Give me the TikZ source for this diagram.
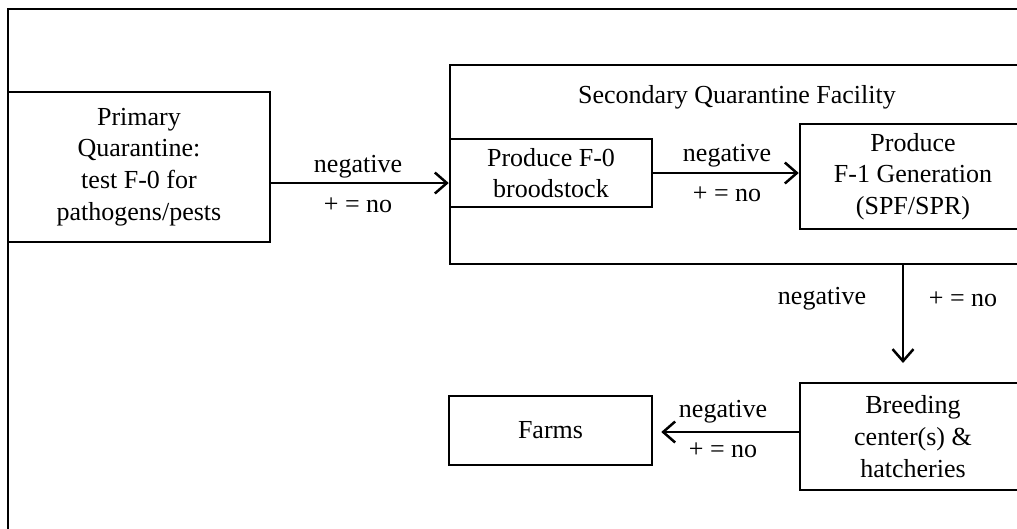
\documentclass[tikz,border=0pt]{standalone}
\usepackage{fontspec}
\setmainfont{Liberation Serif}
\usetikzlibrary{arrows.meta}
\begin{document}
\begin{tikzpicture}[x=1pt,y=-1pt,
  every node/.style={font=\fontsize{26}{31.7}\selectfont, inner sep=0pt},
  box/.style={draw, line width=2.5pt, align=center},
  lab/.style={anchor=center},
  arr/.style={line width=2.5pt, -{Straight Barb[length=12pt,width=21pt,line width=2.5pt]}}]
\useasboundingbox (0,0) rectangle (1017,528);
\clip (0,0) rectangle (1017,528);
\draw[line width=2.5pt] (8,9) rectangle (1045,545);
\node[box, minimum width=262pt, minimum height=150pt] (prim) at (139,167)
  {Primary\\Quarantine:\\test F-0 for\\pathogens/pests};
\node[box, minimum width=600pt, minimum height=199pt] (sec) at (750,164.5) {};
\node (sectitle) at (737,97) {Secondary Quarantine Facility};
\node[box, minimum width=202pt, minimum height=68pt] (f0) at (551,173)
  {Produce F-0\\broodstock};
\node[box, minimum width=226pt, minimum height=105pt] (f1) at (913,176.5)
  {Produce\\F-1 Generation\\(SPF/SPR)};
\node[box, minimum width=226pt, minimum height=107pt] (breed) at (913,436.5)
  {Breeding\\center(s) \&\\hatcheries};
\node[box, minimum width=203pt, minimum height=69pt] (farms) at (550.5,430.5) {Farms};
\coordinate (y1) at (0,183);
\coordinate (xd) at (903,0);
\coordinate (dtip) at (903,363);
\coordinate (y4) at (0,432);
\draw[arr] (prim.east |- y1) -- (f0.west |- y1);
\node[lab] (l1a) at (358,167) {negative};
\node[lab] (l1b) at (358,205) {+ = no};
\draw[arr] (f0.east) -- (f0.east -| f1.west);
\node[lab] (l2a) at (727,156) {negative};
\node[lab] (l2b) at (727,194) {+ = no};
\draw[arr] (sec.south -| xd) -- (dtip);
\node[lab] (l3a) at (822,299) {negative};
\node[lab] (l3b) at (963,299) {+ = no};
\draw[arr] (breed.west |- y4) -- ([xshift=8pt]farms.east |- y4);
\node[lab] (l4a) at (723,412) {negative};
\node[lab] (l4b) at (723,450) {+ = no};
\end{tikzpicture}
\end{document}
